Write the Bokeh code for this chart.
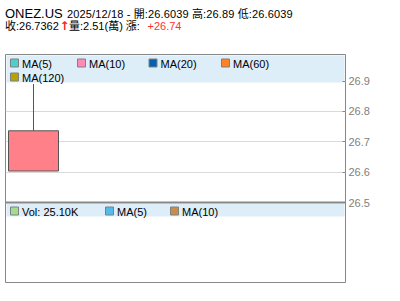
from bokeh.plotting import figure
from bokeh.layouts import column
from bokeh.models import Range1d, FixedTicker, Label, BoxAnnotation, Span, Div
from bokeh.embed import file_html
from bokeh.resources import INLINE

# ---------------- data ----------------
symbol = "ONEZ.US"
date = "2025/12/18"
slots = [0]
opens = [26.6039]
highs = [26.89]
lows = [26.6039]
closes = [26.7362]
volumes = [25100]
change = 26.74
price_ticks = [26.5, 26.6, 26.7, 26.8, 26.9]
ma_labels = ["MA(5)", "MA(10)", "MA(20)", "MA(60)", "MA(120)"]
ma_colors = ["#4dd0cc", "#ff8ab8", "#0062b0", "#ff8224", "#b4a400"]
vol_labels = [f"Vol: {volumes[0] / 1000:.2f}K", "MA(5)", "MA(10)"]
vol_colors = ["#a2dc8e", "#55bbea", "#c88e48"]

# ---------------- layout (page px) ----------------
W, H = 400, 301
HDR = 54                       # header height
FL, FR, FT, FB = 5, 345, 54, 282
SLOT_PX = 56.0
PX_PER_UNIT = 304.0
Y_TICK_TOP_PX = 80.5
y_top = price_ticks[-1] + (Y_TICK_TOP_PX - FT) / PX_PER_UNIT
y_bot = price_ticks[0] - (FB - (Y_TICK_TOP_PX + (price_ticks[-1] - price_ticks[0]) * PX_PER_UNIT)) / PX_PER_UNIT

FONT = "'Liberation Sans', 'Noto Sans CJK TC'"


def sx(cx):
    return cx - FL


def sy(cy):
    return FB - cy


p = figure(width=W, height=H - HDR, output_backend="svg", toolbar_location=None,
           title=None,
           min_border_left=FL, min_border_right=W - FR, min_border_top=FT - HDR,
           min_border_bottom=H - FB,
           x_range=Range1d(-0.5, -0.5 + (FR - FL) / SLOT_PX),
           y_range=Range1d(y_bot, y_top),
           y_axis_location="right", x_axis_location=None)
p.background_fill_color = "white"
p.border_fill_color = "white"
p.outline_line_color = "#888888"
p.outline_line_width = 1

p.xgrid.visible = False
p.ygrid.ticker = FixedTicker(ticks=price_ticks[1:])
p.ygrid.grid_line_color = "#d9d9d9"

ax = p.yaxis[0]
ax.ticker = FixedTicker(ticks=price_ticks)
ax.axis_line_color = None
ax.major_tick_in = 3
ax.major_tick_out = 0
ax.major_tick_line_color = "#888888"
ax.minor_tick_line_color = None
ax.major_label_text_font = "Liberation Sans"
ax.major_label_text_font_size = "11px"
ax.major_label_text_color = "#808080"
ax.major_label_standoff = 3

# panel divider at the lowest price tick
p.add_layout(Span(location=price_ticks[0], dimension="width",
                  line_color="#888888", line_width=2))

# candle
body_top = [max(o, c) for o, c in zip(opens, closes)]
body_bot = [min(o, c) for o, c in zip(opens, closes)]
p.segment(x0=slots, y0=highs, x1=slots, y1=lows, line_color="#555555", line_width=1)
p.vbar(x=slots, width=50 / SLOT_PX, top=body_top, bottom=body_bot,
       fill_color="#ff8088", line_color="#555555", line_width=1)

# legend bands
BAND = "#ddeef9"
for top, bot in [(55, 82), (203, 216)]:
    p.add_layout(BoxAnnotation(left=sx(6), right=sx(344), top=sy(top), bottom=sy(bot),
                               left_units="screen", right_units="screen",
                               top_units="screen", bottom_units="screen",
                               fill_color=BAND, fill_alpha=1, line_alpha=0, level="underlay"))


def legend_item(x_sq, y_c, color, text):
    p.add_layout(BoxAnnotation(left=sx(x_sq), right=sx(x_sq + 8),
                               top=sy(y_c - 4), bottom=sy(y_c + 4),
                               left_units="screen", right_units="screen",
                               top_units="screen", bottom_units="screen",
                               fill_color=color, fill_alpha=1,
                               line_color="#808080", line_alpha=1, line_width=1))
    p.add_layout(Label(x=sx(x_sq + 11.5), y=sy(y_c + 0.5), x_units="screen", y_units="screen",
                       text=text, text_font=FONT, text_font_size="11px",
                       text_color="#000000", text_baseline="middle", text_align="left"))


ma_pos = [(10, 62.5), (77, 62.5), (148.5, 62.5), (221, 62.5), (10, 76.5)]
for (xq, yc), col, lab in zip(ma_pos, ma_colors, ma_labels):
    legend_item(xq, yc, col, lab)

vol_pos = [(10, 210.5), (105, 210.5), (170, 210.5)]
for (xq, yc), col, lab in zip(vol_pos, vol_colors, vol_labels):
    legend_item(xq, yc, col, lab)


# header (HTML)
def span(left, top, text, size=11, color="#000", weight="normal", font=FONT, ls=0):
    return (f'<span style="position:absolute;left:{left}px;top:{top}px;font-size:{size}px;'
            f'line-height:1;white-space:nowrap;color:{color};font-weight:{weight};'
            f'letter-spacing:{ls}px;font-family:{font};">{text}</span>')


html = (
    f'<div style="position:relative;width:{W}px;height:{HDR}px;margin:0;padding:0;">'
    + span(5, 7.0, symbol, size=13)
    + span(67, 8.8, f"{date} - 開:{opens[0]} 高:{highs[0]} 低:{lows[0]}", ls=0.14)
    + span(5, 20.6, f"收:{closes[0]}")
    + span(59.5, 20.3, "↑", size=12, color="#ff2020", weight="bold", font="'DejaVu Sans'")
    + span(69, 20.6, f"量:{volumes[0] / 10000:.2f}(萬) 漲:")
    + span(147.5, 20.6, f"+{change}", color="#ff3030")
    + '</div>'
)
hdr = Div(text=html, width=W, height=HDR, margin=0,
          styles={"margin": "0", "padding": "0", "background": "white"})

layout = column(hdr, p, spacing=0)
open("out.html", "w").write(file_html(layout, INLINE))
